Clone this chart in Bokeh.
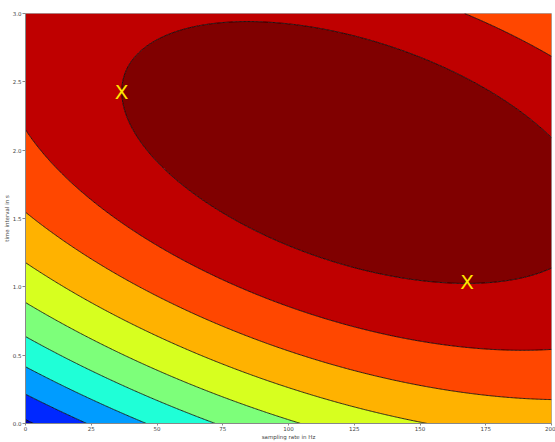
import numpy as np
from bokeh.plotting import figure
from bokeh.models import FixedTicker, ColumnDataSource
from bokeh.core.properties import value
from bokeh.embed import file_html
from bokeh.resources import INLINE

# Quadratic response surface of the score around its optimum
peak_rate_hz = 126.05
peak_interval_s = 1.983
peak_score = 0.978
curv_rate = 1.2445e-5      # per Hz^2
curv_cross = 1.0811e-3     # per Hz*s
curv_interval = 0.10844    # per s^2

score_levels = [0.0, 0.1, 0.2, 0.3, 0.4, 0.5, 0.6, 0.7, 0.8, 0.9, 1.0]
level_colors = ["#0000BF", "#0028FF", "#009CFF", "#1FFFD7", "#7DFF7A",
                "#D7FF1F", "#FFB200", "#FF4700", "#BF0000", "#800000"]

# Highlighted settings
marker_rate = [36.5, 167.9]
marker_interval = [2.429, 1.034]
marker_text = ["X", "X"]

x_ticks = [0, 25, 50, 75, 100, 125, 150, 175, 200]
x_tick_labels = ["0", "25", "50", "75", "100", "125", "150", "175", "200"]
y_ticks = [0.0, 0.5, 1.0, 1.5, 2.0, 2.5, 3.0]
y_tick_labels = ["0.0", "0.5", "1.0", "1.5", "2.0", "2.5", "3.0"]

rate = np.linspace(0, 200, 401)
interval = np.linspace(0, 3, 301)
rr, ii = np.meshgrid(rate, interval)
dr = rr - peak_rate_hz
di = ii - peak_interval_s
score = peak_score - (curv_rate * dr**2 + curv_cross * dr * di + curv_interval * di**2)

p = figure(width=555, height=442, x_range=(0, 200), y_range=(0, 3),
           output_backend="svg", toolbar_location=None,
           min_border_left=25, min_border_right=4, min_border_top=13, min_border_bottom=19)

p.contour(rate, interval, score, levels=score_levels, fill_color=level_colors,
          line_color="black", line_width=0.8)

src = ColumnDataSource(dict(x=marker_rate, y=marker_interval, t=marker_text))
p.text(x="x", y="y", text="t", source=src, text_color="#FFE600",
       text_font=value("DejaVu Sans"), text_font_size="20px",
       text_align="center", text_baseline="middle")

p.grid.visible = False
p.outline_line_color = "#AAAAAA"
p.outline_line_width = 1

p.xaxis.ticker = FixedTicker(ticks=x_ticks)
p.xaxis.major_label_overrides = dict(zip(x_ticks, x_tick_labels))
p.yaxis.ticker = FixedTicker(ticks=y_ticks)
p.yaxis.major_label_overrides = dict(zip(y_ticks, y_tick_labels))
p.xaxis.axis_label = "sampling rate in Hz"
p.yaxis.axis_label = "time interval in s"

for ax in (p.xaxis, p.yaxis):
    ax.axis_line_color = "#888888"
    ax.major_tick_line_color = "#888888"
    ax.major_tick_out = 3
    ax.major_tick_in = 0
    ax.minor_tick_out = 0
    ax.minor_tick_in = 0
    ax.major_label_text_font = "DejaVu Sans"
    ax.major_label_text_font_size = "5.5px"
    ax.major_label_text_color = "#444444"
    ax.major_label_standoff = 1
    ax.axis_label_text_font = "DejaVu Sans"
    ax.axis_label_text_font_size = "5.5px"
    ax.axis_label_text_font_style = "normal"
    ax.axis_label_text_color = "#444444"
    ax.axis_label_standoff = 0

p.xaxis.major_tick_out = 2
p.xaxis.major_label_standoff = 0

open("out.html", "w").write(file_html(p, INLINE))
